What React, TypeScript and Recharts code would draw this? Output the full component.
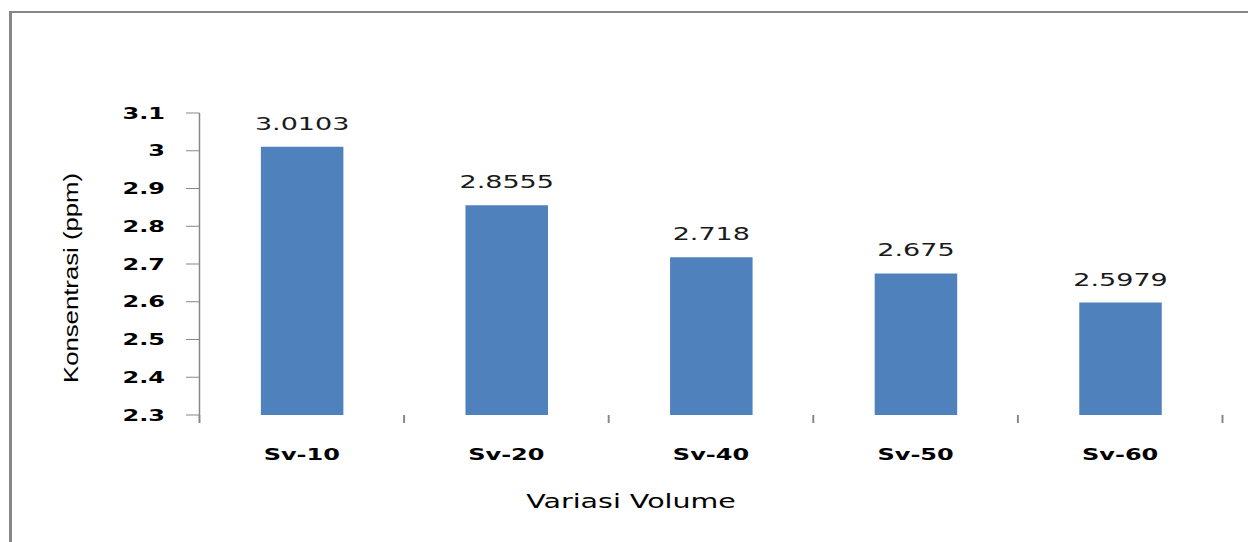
import { Bar, BarChart, LabelList, Label, XAxis, YAxis } from "recharts";

const categories = ["Sv-10", "Sv-20", "Sv-40", "Sv-50", "Sv-60"];
const konsentrasi = [3.0103, 2.8555, 2.718, 2.675, 2.5979];
const yTicks = [2.3, 2.4, 2.5, 2.6, 2.7, 2.8, 2.9, 3, 3.1];

const data = categories.map((name, i) => ({ name, value: konsentrasi[i] }));

// the reference picture is stretched sideways, so the chart is drawn narrow and scaled by 1.5
const STRETCH = 1.5;
const W = 832;
const H = 542;
const Y_AXIS_W = 133;
const RIGHT = 17;
const BAND = (W - Y_AXIS_W - RIGHT) / categories.length;
const GRAY = "#878787";

const CategoryTick = (props: any) => {
  const { x, y, payload, index } = props;
  const last = index === categories.length - 1;
  return (
    <g>
      <line x1={x - BAND / 2} x2={x - BAND / 2} y1={y} y2={y + 8} stroke={GRAY} strokeWidth={1.3} />
      {last && (
        <line x1={x + BAND / 2} x2={x + BAND / 2} y1={y} y2={y + 8} stroke={GRAY} strokeWidth={1.3} />
      )}
      <text
        x={x}
        y={y + 45}
        textAnchor="middle"
        fill="#000"
        fontSize={16}
        fontWeight="bold"
        fontFamily="DejaVu Sans"
      >
        {payload.value}
      </text>
    </g>
  );
};

export default function App() {
  return (
    <div style={{ position: "fixed", left: 0, top: 0, width: 1248, height: 542, overflow: "hidden", background: "#fff" }}>
      <div
        style={{
          position: "absolute",
          left: 9,
          top: 11,
          width: 1300,
          height: 600,
          borderTop: `2px solid ${GRAY}`,
          borderLeft: `3px solid ${GRAY}`,
        }}
      />
      <div
        style={{
          position: "absolute",
          left: 0,
          top: 0,
          width: W,
          height: H,
          transform: `scale(${STRETCH}, 1)`,
          transformOrigin: "0 0",
        }}
      >
        <BarChart width={W} height={H} data={data} margin={{ top: 113, right: RIGHT, left: 0, bottom: 0 }} barCategoryGap="30%">
          <XAxis
            dataKey="name"
            height={127}
            axisLine={false}
            tickLine={false}
            tickSize={0}
            tickMargin={0}
            tick={<CategoryTick />}
            interval={0}
          >
            <Label
              content={() => (
                <text x={420.7} y={508} textAnchor="middle" fill="#000" fontSize={19} fontFamily="DejaVu Sans">
                  Variasi Volume
                </text>
              )}
            />
          </XAxis>
          <YAxis
            width={Y_AXIS_W}
            domain={[2.3, 3.1]}
            ticks={yTicks}
            interval={0}
            allowDataOverflow
            axisLine={{ stroke: GRAY }}
            tickLine={{ stroke: GRAY }}
            tickSize={9}
            tickMargin={14}
            tickFormatter={(v: number) => String(v)}
            tick={{ fill: "#000", fontSize: 16, fontWeight: "bold", fontFamily: "DejaVu Sans" }}
          >
            <Label
              content={() => (
                <text
                  x={0}
                  y={0}
                  transform="translate(52, 278) rotate(-90)"
                  textAnchor="middle"
                  fill="#000"
                  fontSize={14}
                  fontFamily="Liberation Sans"
                  textLength={210}
                  lengthAdjust="spacingAndGlyphs"
                >
                  Konsentrasi (ppm)
                </text>
              )}
            />
          </YAxis>
          <Bar dataKey="value" fill="#4f81bd" isAnimationActive={false}>
            <LabelList dataKey="value" position="top" offset={17} fill="#1a1a1a" fontSize={18} fontFamily="DejaVu Sans" />
          </Bar>
        </BarChart>
      </div>
    </div>
  );
}
